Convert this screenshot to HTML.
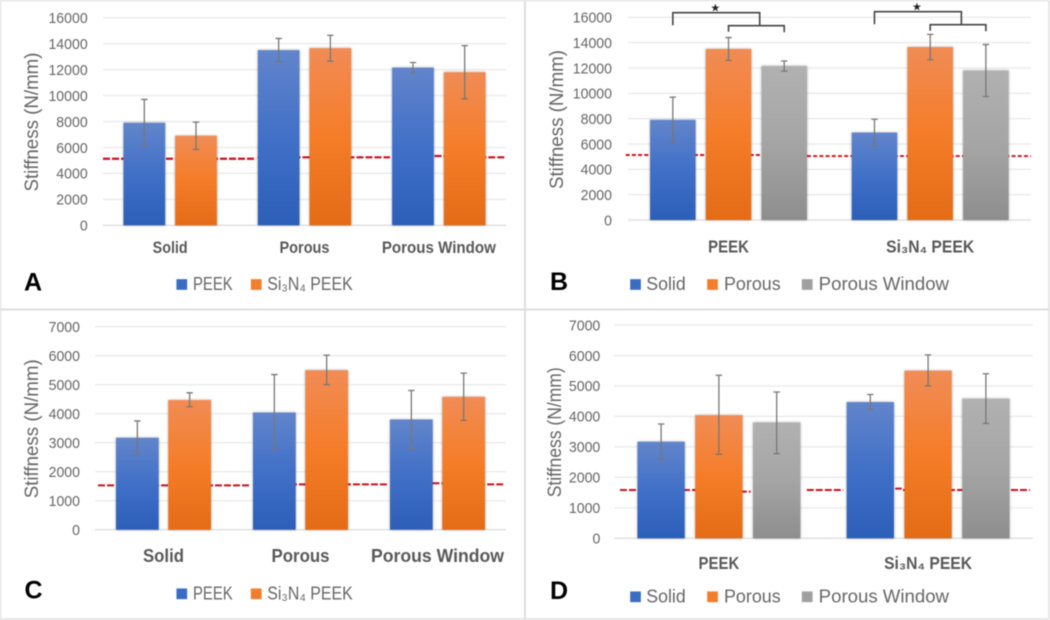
<!DOCTYPE html>
<html lang="en">
<head>
<meta charset="utf-8">
<title>Stiffness comparison panels</title>
<style>
html,body{margin:0;padding:0;background:#fff;width:1050px;height:620px;overflow:hidden}
svg{display:block;filter:blur(.45px)}
text{font-family:"Liberation Sans","DejaVu Sans",sans-serif}
.tick{font-size:15px;fill:#666;text-anchor:end}
.ytitle{font-size:19px;fill:#666;text-anchor:middle}
.cat{font-weight:bold;fill:#595959;text-anchor:middle}
.leg{font-size:18px;fill:#666}
.letter{font-size:25px;font-weight:bold;fill:#000}
</style>
</head>
<body>
<svg id="figure" xmlns="http://www.w3.org/2000/svg" width="1050" height="620" viewBox="0 0 1050 620">
<defs>
<linearGradient id="gBlue" x1="0" y1="0" x2="0" y2="1"><stop offset="0" stop-color="#6285cb"/><stop offset=".5" stop-color="#4170c8"/><stop offset="1" stop-color="#2c5fb8"/></linearGradient>
<linearGradient id="gOrange" x1="0" y1="0" x2="0" y2="1"><stop offset="0" stop-color="#f18c55"/><stop offset=".5" stop-color="#f57d28"/><stop offset="1" stop-color="#e46c17"/></linearGradient>
<linearGradient id="gGray" x1="0" y1="0" x2="0" y2="1"><stop offset="0" stop-color="#b1b1b1"/><stop offset=".5" stop-color="#a5a5a5"/><stop offset="1" stop-color="#8e8e8e"/></linearGradient>
</defs>
<rect x="0" y="0" width="1050" height="620" fill="#fff"/>
<rect x=".5" y=".5" width="1048.5" height="618.5" fill="none" stroke="#e2e2e2" stroke-width="1.6"/>
<line x1="525" y1="0" x2="525" y2="620" stroke="#dedede" stroke-width="2"/>
<line x1="0" y1="309.5" x2="1050" y2="309.5" stroke="#dedede" stroke-width="2"/>
</svg>
<script>
// Panel A
const aCategories = ['Solid', 'Porous', 'Porous Window'];
const aTicks = [0, 2000, 4000, 6000, 8000, 10000, 12000, 14000, 16000];
const aPeekValues = [7900, 13500, 12150];
const aPeekHigh = [9700, 14400, 12550];
const aPeekLow = [6100, 12600, 11750];
const aSiValues = [6900, 13650, 11800];
const aSiHigh = [7950, 14650, 13850];
const aSiLow = [5850, 12650, 9750];
const aRefValues = [5130, 5240, 5340, 5240];
const aRefFrom = [0, 1.15, 2.2, 2.6];
const aRefTo = [1.14, 2.137, 2.55, 3];

// Panel B
const bCategories = ['PEEK', 'Si₃N₄ PEEK'];
const bTicks = [0, 2000, 4000, 6000, 8000, 10000, 12000, 14000, 16000];
const bSolidValues = [7900, 6900];
const bSolidHigh = [9700, 7950];
const bSolidLow = [6100, 5850];
const bPorousValues = [13500, 13650];
const bPorousHigh = [14400, 14650];
const bPorousLow = [12600, 12650];
const bWindowValues = [12150, 11800];
const bWindowHigh = [12550, 13850];
const bWindowLow = [11750, 9750];
const bRefValues = [5130, 5050];
const bRefFrom = [-0.01, 0.889];
const bRefTo = [0.889, 2];

// Panel C
const cCategories = ['Solid', 'Porous', 'Porous Window'];
const cTicks = [0, 1000, 2000, 3000, 4000, 5000, 6000, 7000];
const cPeekValues = [3170, 4040, 3800];
const cPeekHigh = [3750, 5350, 4800];
const cPeekLow = [2590, 2760, 2780];
const cSiValues = [4470, 5500, 4580];
const cSiHigh = [4720, 6020, 5400];
const cSiLow = [4240, 5000, 3770];
const cRefValues = [1530, 1565, 1600, 1565];
const cRefFrom = [0.022, 1.16, 2.2, 2.6];
const cRefTo = [1.137, 2.139, 2.55, 2.985];

// Panel D
const dCategories = ['PEEK', 'Si₃N₄ PEEK'];
const dTicks = [0, 1000, 2000, 3000, 4000, 5000, 6000, 7000];
const dSolidValues = [3170, 4470];
const dSolidHigh = [3750, 4720];
const dSolidLow = [2590, 4240];
const dPorousValues = [4040, 5500];
const dPorousHigh = [5350, 6020];
const dPorousLow = [2760, 5000];
const dWindowValues = [3800, 4580];
const dWindowHigh = [4800, 5400];
const dWindowLow = [2780, 3770];
const dRefValues = [1585, 1530, 1585, 1630, 1585];
const dRefFrom = [0.027, 0.6, 0.92, 1.3, 1.38];
const dRefTo = [0.6, 0.652, 1.095, 1.374, 1.987];

const SVG_NS = 'http://www.w3.org/2000/svg';
const figure = document.getElementById('figure');
const FILLS = { blue: 'url(#gBlue)', orange: 'url(#gOrange)', gray: 'url(#gGray)' };
const SWATCH = { blue: '#3a6cc4', orange: '#f27d2c', gray: '#a0a0a0' };

function shape(parent, tag, attrs, content) {
  const el = document.createElementNS(SVG_NS, tag);
  for (const k in attrs) el.setAttribute(k, attrs[k]);
  if (content !== undefined) el.textContent = content;
  parent.appendChild(el);
  return el;
}

function drawPanel(p) {
  const group = shape(figure, 'g', {});
  
  
  const yMax = p.ticks[p.ticks.length - 1];
  const y = v => p.y0 - (v / yMax) * (p.y0 - p.yTop);
  const catW = (p.x1 - p.x0) / p.categories.length;
  const xd = d => p.x0 + d * catW;
  const catCenter = i => xd(i + 0.5);

  p.ticks.forEach(t => {
    const grid = shape(group, 'line', { x1: p.x0, x2: p.x1, y1: y(t), y2: y(t), stroke: t === 0 ? '#e0e0e0' : '#ececec', 'stroke-width': 1.5 });
    
    
    const label = shape(group, 'text', { class: 'tick', x: p.tickX, y: y(t) + 5.3, textLength: String(t).length * 7.85, lengthAdjust: 'spacingAndGlyphs' }, String(t));
    
    
  });

  const title = shape(group, 'text', { class: 'ytitle', transform: 'translate(' + p.titleX + ',' + p.titleY + ') rotate(-90)', textLength: p.titleLen, lengthAdjust: 'spacingAndGlyphs' }, 'Stiffness (N/mm)');
  
  

  p.refValues.forEach((v, i) => {
    const seg = shape(group, 'line', { x1: xd(p.refFrom[i]), x2: xd(p.refTo[i]), y1: y(v), y2: y(v), stroke: p.refColor, 'stroke-width': p.refWidth, 'stroke-dasharray': p.refDash });
    
    
  });

  const n = p.series.length;
  p.series.forEach((s, si) => {
    s.values.forEach((v, ci) => {
      const cx = catCenter(ci) + (si - (n - 1) / 2) * p.spacing;
      const bar = shape(group, 'rect', { x: cx - p.barW / 2, y: y(v), width: p.barW, height: y(0) - y(v), fill: FILLS[s.color], style: 'filter:drop-shadow(0 0 1.2px rgba(0,0,0,.35))' });
      
      
    });
  });
  p.series.forEach((s, si) => {
    s.values.forEach((v, ci) => {
      const cx = catCenter(ci) + (si - (n - 1) / 2) * p.spacing;
      const err = shape(group, 'path', { d: 'M' + (cx - 3.2) + ' ' + y(s.high[ci]) + 'H' + (cx + 3.2) + 'M' + cx + ' ' + y(s.high[ci]) + 'V' + y(s.low[ci]) + 'M' + (cx - 3.2) + ' ' + y(s.low[ci]) + 'H' + (cx + 3.2), stroke: '#777', 'stroke-width': 1.3, fill: 'none' });
      
      
    });
  });

  p.categories.forEach((c, i) => {
    const attrs = { class: 'cat', x: catCenter(i), y: p.catY, 'font-size': p.catSize, textLength: p.catLens[i], lengthAdjust: 'spacingAndGlyphs' };
    const label = shape(group, 'text', attrs, c);
    
    
  });

  p.legend.forEach((e, i) => {
    const sw = shape(group, 'rect', { x: e.x, y: p.legY - 11, width: 11, height: 11, fill: SWATCH[p.series[i].color], stroke: 'rgba(255,255,255,.5)', 'stroke-width': .6 });
    
    
    const t = shape(group, 'text', { class: 'leg', x: e.tx, y: p.legY, textLength: e.len, lengthAdjust: 'spacingAndGlyphs' }, p.series[i].name);
    
    
  });

  const letter = shape(group, 'text', { class: 'letter', x: p.letterX, y: p.letterY }, p.id.toUpperCase());
  
  

  if (p.brackets) {
    p.categories.forEach((c, ci) => {
      const cs = catCenter(ci);
      const x1 = cs - p.spacing, x2 = cs, x3 = cs + p.spacing;
      const joint = x2 + 0.56 * p.spacing;
      const top = p.brackets[ci];
      const path = 'M' + x1 + ' ' + (top + 12.5) + 'V' + top + 'H' + joint + 'V' + (top + 13) +
        'M' + x2 + ' ' + (top + 19) + 'V' + (top + 13) + 'H' + x3 + 'V' + (top + 19.5);
      const br = shape(group, 'path', { d: path, fill: 'none', stroke: '#444', 'stroke-width': 1.6 });
      
      
      const star = shape(group, 'text', { x: (x1 + joint) / 2 - 1, y: top - 1, 'text-anchor': 'middle', 'font-size': 11, fill: '#222' }, '★');
      
      
    });
  }
}

drawPanel({
  id: 'a', categories: aCategories, ticks: aTicks, x0: 103, x1: 506, yTop: 17.7, y0: 225.3,
  tickX: 87.7, titleX: 38, titleY: 122, titleLen: 139, barW: 41.7, spacing: 51.7,
  catY: 253, catSize: 16.5, catLens: [35, 50, 114], legY: 290, letterX: 24, letterY: 290.7,
  refValues: aRefValues, refFrom: aRefFrom, refTo: aRefTo, refColor: '#c8101c', refWidth: 2.2, refDash: '7 2',
  series: [
    { key: 'peek', name: 'PEEK', color: 'blue', values: aPeekValues, high: aPeekHigh, low: aPeekLow },
    { key: 'si3n4-peek', name: 'Si₃N₄ PEEK', color: 'orange', values: aSiValues, high: aSiHigh, low: aSiLow }
  ],
  legend: [{ x: 176.3, tx: 193, len: 39.7 }, { x: 250.7, tx: 267.3, len: 85.4 }]
});

drawPanel({
  id: 'b', categories: bCategories, ticks: bTicks, x0: 627.7, x1: 1031, yTop: 17.3, y0: 220,
  tickX: 612, titleX: 563, titleY: 119.5, titleLen: 139, barW: 45.5, spacing: 55.7,
  catY: 252.7, catSize: 17.5, catLens: [40.7, 88], legY: 290, letterX: 550, letterY: 290,
  refValues: bRefValues, refFrom: bRefFrom, refTo: bRefTo, refColor: '#d01018', refWidth: 1.9, refDash: '4 2.2',
  brackets: [12.7, 11.7],
  series: [
    { key: 'solid', name: 'Solid', color: 'blue', values: bSolidValues, high: bSolidHigh, low: bSolidLow },
    { key: 'porous', name: 'Porous', color: 'orange', values: bPorousValues, high: bPorousHigh, low: bPorousLow },
    { key: 'porous-window', name: 'Porous Window', color: 'gray', values: bWindowValues, high: bWindowHigh, low: bWindowLow }
  ],
  legend: [{ x: 630, tx: 646.3, len: 39.4 }, { x: 707, tx: 724, len: 56.7 }, { x: 801.7, tx: 818.7, len: 130.3 }]
});

drawPanel({
  id: 'c', categories: cCategories, ticks: cTicks, x0: 95, x1: 506, yTop: 326.7, y0: 529.7,
  tickX: 80, titleX: 38, titleY: 428.8, titleLen: 139, barW: 42.7, spacing: 52.3,
  catY: 562, catSize: 18.5, catLens: [41, 58, 133], legY: 599.3, letterX: 24.5, letterY: 598.7,
  refValues: cRefValues, refFrom: cRefFrom, refTo: cRefTo, refColor: '#c8101c', refWidth: 2, refDash: '7 2',
  series: [
    { key: 'peek', name: 'PEEK', color: 'blue', values: cPeekValues, high: cPeekHigh, low: cPeekLow },
    { key: 'si3n4-peek', name: 'Si₃N₄ PEEK', color: 'orange', values: cSiValues, high: cSiHigh, low: cSiLow }
  ],
  legend: [{ x: 176.3, tx: 193, len: 39.7 }, { x: 250.7, tx: 267.3, len: 85.4 }]
});

drawPanel({
  id: 'd', categories: dCategories, ticks: dTicks, x0: 614.3, x1: 1032.7, yTop: 325, y0: 538.3,
  tickX: 600.3, titleX: 561, titleY: 432.3, titleLen: 130, barW: 47.3, spacing: 57.8,
  catY: 569, catSize: 17.5, catLens: [40.7, 88], legY: 602.3, letterX: 550, letterY: 599,
  refValues: dRefValues, refFrom: dRefFrom, refTo: dRefTo, refColor: '#c8101c', refWidth: 2, refDash: '7 2',
  series: [
    { key: 'solid', name: 'Solid', color: 'blue', values: dSolidValues, high: dSolidHigh, low: dSolidLow },
    { key: 'porous', name: 'Porous', color: 'orange', values: dPorousValues, high: dPorousHigh, low: dPorousLow },
    { key: 'porous-window', name: 'Porous Window', color: 'gray', values: dWindowValues, high: dWindowHigh, low: dWindowLow }
  ],
  legend: [{ x: 630, tx: 646.3, len: 39.4 }, { x: 707, tx: 724, len: 56.7 }, { x: 801.7, tx: 818.7, len: 130.3 }]
});
</script>
</body>
</html>
